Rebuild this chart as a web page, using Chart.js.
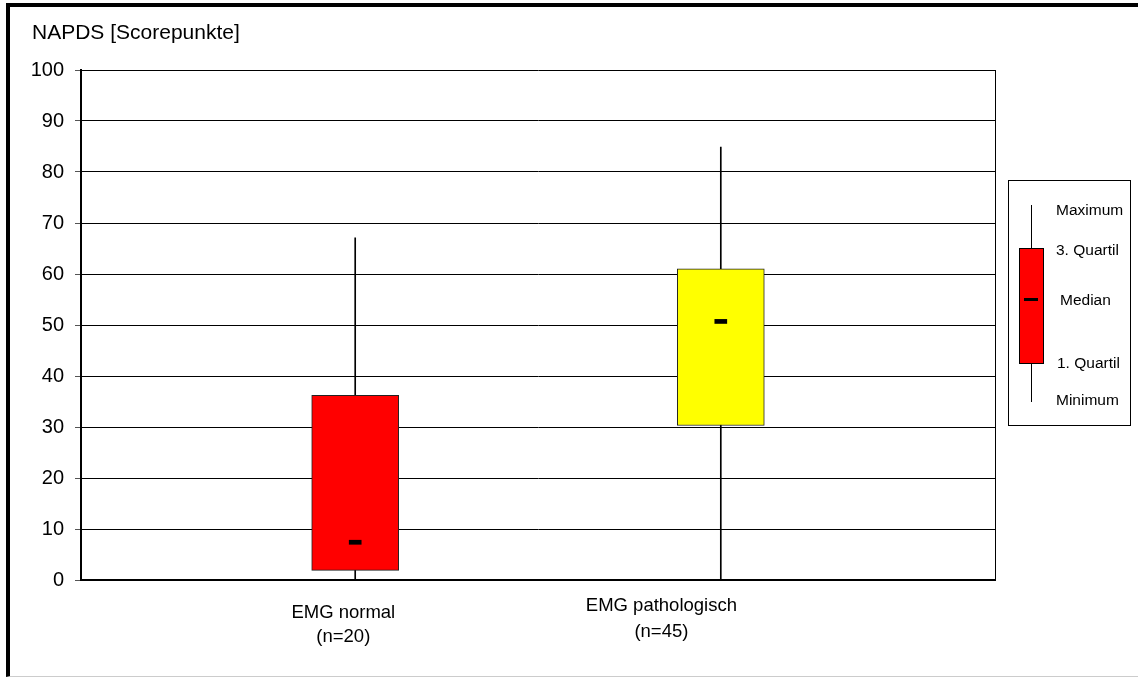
<!DOCTYPE html>
<html>
<head>
<meta charset="utf-8">
<title>NAPDS Boxplot</title>
<script src="https://cdn.jsdelivr.net/npm/chart.js@4.4.1/dist/chart.umd.min.js"></script>
<style>
    body { margin: 0; background: #fff; font-family: "Liberation Sans", Arial, sans-serif; }
    #wrap { position: relative; width: 1138px; height: 677px; overflow: hidden; }
    #frame {
        position: absolute; left: 6px; top: 3px; width: 1132px; height: 674px;
        box-sizing: border-box;
        border-left: 4px solid #000; border-top: 4px solid #000; border-bottom: 1px solid #ccc;
    }
    #grafico { position: absolute; left: 0; top: 0; }
    .titulo { position: absolute; left: 32px; top: 21px; font-size: 21px; line-height: 21px; color: #000; }
    .legenda { position: absolute; left: 1008px; top: 180px; width: 123px; height: 246px; box-sizing: border-box; border: 1px solid #000; }
    .leg-linha { position: absolute; left: 1031px; top: 205px; width: 1px; height: 197px; background: #000; }
    .leg-caixa { position: absolute; left: 1019px; top: 248px; width: 25px; height: 116px; box-sizing: border-box; background: #ff0000; border: 1px solid #000; }
    .leg-mediana { position: absolute; left: 1024px; top: 298px; width: 14px; height: 3px; background: #000; }
    .leg-texto { position: absolute; font-size: 15.5px; line-height: 18px; color: #000; white-space: nowrap; }
</style>
</head>
<body>
<div id="wrap">
    <div id="frame"></div>
    <canvas id="grafico" width="1138" height="677"></canvas>
    <div class="titulo">NAPDS [Scorepunkte]</div>
    <div class="legenda"></div>
    <div class="leg-linha"></div>
    <div class="leg-caixa"></div>
    <div class="leg-mediana"></div>
    <div class="leg-texto" style="left:1056px; top:201px;">Maximum</div>
    <div class="leg-texto" style="left:1056px; top:241px;">3. Quartil</div>
    <div class="leg-texto" style="left:1060px; top:291px;">Median</div>
    <div class="leg-texto" style="left:1057px; top:354px;">1. Quartil</div>
    <div class="leg-texto" style="left:1056px; top:391px;">Minimum</div>
</div>

<script>
// Dados
const grupos = ['EMG normal', 'EMG pathologisch'];
const tamanhos = ['(n=20)', '(n=45)'];
const posicoes = [0.3, 0.7];           // posição de cada caixa no eixo x (0..1)
const minimos = [0, 0];
const quartil1 = [1.9, 30.3];
const medianas = [7.4, 50.7];
const quartil3 = [36.2, 61.0];
const maximos = [67.1, 84.9];
const coresCaixa = ['#ff0000', '#ffff00'];
const ticksY = [0, 10, 20, 30, 40, 50, 60, 70, 80, 90, 100];

// posição dos rótulos das categorias (no eixo x) e distância abaixo do eixo
const rotuloX = [0.287, 0.635];
const rotuloLinhas = [[38, 62], [31, 57]];

const fonte = '"Liberation Sans", Arial, sans-serif';

// Plugin simples para escrever os nomes dos grupos embaixo do eixo
const rotulosGrupos = {
    id: 'rotulosGrupos',
    afterDraw(chart) {
        const ctx = chart.ctx;
        const xScale = chart.scales.x;
        const base = chart.chartArea.bottom;
        ctx.save();
        ctx.font = '18.5px ' + fonte;
        ctx.fillStyle = '#000';
        ctx.textAlign = 'center';
        ctx.textBaseline = 'alphabetic';
        grupos.forEach((nome, i) => {
            const x = xScale.getPixelForValue(rotuloX[i]);
            ctx.fillText(nome, x, base + rotuloLinhas[i][0]);
            ctx.fillText(tamanhos[i], x, base + rotuloLinhas[i][1]);
        });
        ctx.restore();
    }
};

const meiaAlturaMediana = 0.4;

const ctx = document.getElementById('grafico').getContext('2d');

new Chart(ctx, {
    type: 'bar',
    data: {
        datasets: [
            {
                // linhas de mínimo a máximo
                data: posicoes.map((x, i) => ({ x: x, y: [minimos[i], maximos[i]] })),
                backgroundColor: '#000',
                borderWidth: 0,
                barThickness: 1,
                grouped: false,
                order: 3
            },
            {
                // caixas do 1. ao 3. quartil
                data: posicoes.map((x, i) => ({ x: x, y: [quartil1[i], quartil3[i]] })),
                backgroundColor: coresCaixa,
                borderColor: '#222',
                borderWidth: 1,
                borderSkipped: false,
                barThickness: 87,
                grouped: false,
                order: 2
            },
            {
                // marcador da mediana
                data: posicoes.map((x, i) => ({ x: x, y: [medianas[i] - meiaAlturaMediana, medianas[i] + meiaAlturaMediana] })),
                backgroundColor: '#000',
                borderWidth: 0,
                barThickness: 12,
                grouped: false,
                order: 1
            }
        ]
    },
    options: {
        responsive: false,
        animation: false,
        layout: {
            padding: { left: 0, top: 70, right: 143, bottom: 97 }
        },
        plugins: {
            legend: { display: false },
            tooltip: { enabled: false },
            title: { display: false }
        },
        scales: {
            x: {
                type: 'linear',
                min: 0,
                max: 1,
                offset: false,
                afterBuildTicks: (scale) => { scale.ticks = [{ value: 0 }, { value: 1 }]; },
                afterFit: (scale) => { scale.height = 0; },
                ticks: { display: false },
                grid: { color: '#000', lineWidth: 1, drawTicks: false, offset: false },
                border: { display: true, color: '#000', width: 2 }
            },
            y: {
                min: 0,
                max: 100,
                afterBuildTicks: (scale) => { scale.ticks = ticksY.map(v => ({ value: v })); },
                afterFit: (scale) => { scale.width = 81; },
                ticks: {
                    color: '#000',
                    padding: 11,
                    font: { family: fonte, size: 20 }
                },
                grid: { color: '#000', lineWidth: 1, tickLength: 6, tickColor: '#555' },
                border: { display: true, color: '#000', width: 2 }
            }
        }
    },
    plugins: [rotulosGrupos]
});
</script>
</body>
</html>
